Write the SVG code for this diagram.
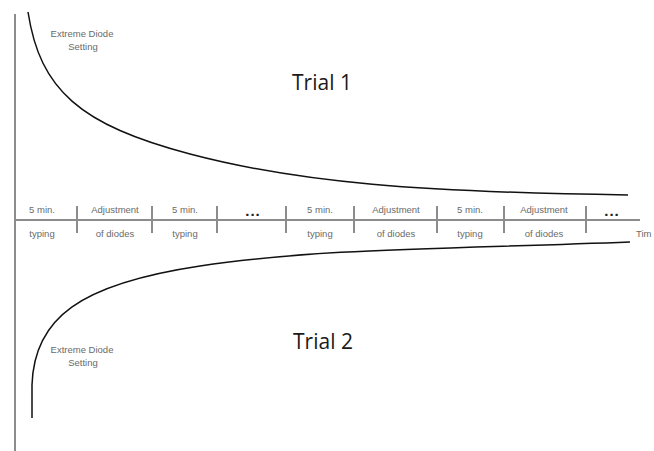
<svg xmlns="http://www.w3.org/2000/svg" width="654" height="451" viewBox="0 0 654 451">
<style>
.axis{stroke:#8c8c8c;stroke-width:2;fill:none}
.tick{stroke:#8c8c8c;stroke-width:2}
.curve{stroke:#111;stroke-width:1.5;fill:none}
.lbl{font-family:"Liberation Sans",Arial,sans-serif;font-size:9.5px;fill:#6a6a6a;text-anchor:middle}
.title{font-family:"Open Sans","Liberation Sans",sans-serif;font-size:21px;fill:#1a1a1a;text-anchor:middle}
.dots{font-family:"Liberation Sans",Arial,sans-serif;font-size:15px;font-weight:bold;fill:#222;text-anchor:middle;letter-spacing:1px}
</style>
<rect width="654" height="451" fill="#fff"/>
<g id="axes">
<line class="axis" x1="15" y1="14" x2="15" y2="451"/>
<line class="axis" x1="14" y1="220" x2="640" y2="220"/>
</g>
<g id="ticks">
<line class="tick" x1="77" y1="206" x2="77" y2="233"/>
<line class="tick" x1="152" y1="206" x2="152" y2="233"/>
<line class="tick" x1="217" y1="206" x2="217" y2="233"/>
<line class="tick" x1="286" y1="206" x2="286" y2="233"/>
<line class="tick" x1="354" y1="206" x2="354" y2="233"/>
<line class="tick" x1="437" y1="206" x2="437" y2="233"/>
<line class="tick" x1="504" y1="206" x2="504" y2="233"/>
<line class="tick" x1="586" y1="206" x2="586" y2="233"/>
</g>
<g id="connectors">
<path class="curve" d="M28,12 C40,90 80,125 190,154 S420,192 628,195"/>
<path class="curve" d="M32,418 L32,385 C34,318 80,284 200,266 S450,249 630,242"/>
</g>
<g id="trial1"><text class="title" x="322" y="90">Trial 1</text></g>
<g id="trial2"><text class="title" x="323" y="349">Trial 2</text></g>
<g id="extreme-top">
<text class="lbl" x="82" y="37">Extreme Diode</text>
<text class="lbl" x="83" y="50">Setting</text>
</g>
<g id="extreme-bottom">
<text class="lbl" x="82" y="353">Extreme Diode</text>
<text class="lbl" x="83" y="366">Setting</text>
</g>
<g id="seg1"><text class="lbl" x="42" y="213">5 min.</text><text class="lbl" x="42" y="237">typing</text></g>
<g id="seg2"><text class="lbl" x="115" y="213">Adjustment</text><text class="lbl" x="115" y="237">of diodes</text></g>
<g id="seg3"><text class="lbl" x="185" y="213">5 min.</text><text class="lbl" x="185" y="237">typing</text></g>
<g id="seg4"><text class="dots" x="253" y="216">...</text></g>
<g id="seg5"><text class="lbl" x="320" y="213">5 min.</text><text class="lbl" x="320" y="237">typing</text></g>
<g id="seg6"><text class="lbl" x="396" y="213">Adjustment</text><text class="lbl" x="396" y="237">of diodes</text></g>
<g id="seg7"><text class="lbl" x="470" y="213">5 min.</text><text class="lbl" x="470" y="237">typing</text></g>
<g id="seg8"><text class="lbl" x="544" y="213">Adjustment</text><text class="lbl" x="544" y="237">of diodes</text></g>
<g id="seg9"><text class="dots" x="612" y="216">...</text></g>
<g id="time"><text class="lbl" x="636" y="237" style="text-anchor:start">Tim</text></g>
</svg>
